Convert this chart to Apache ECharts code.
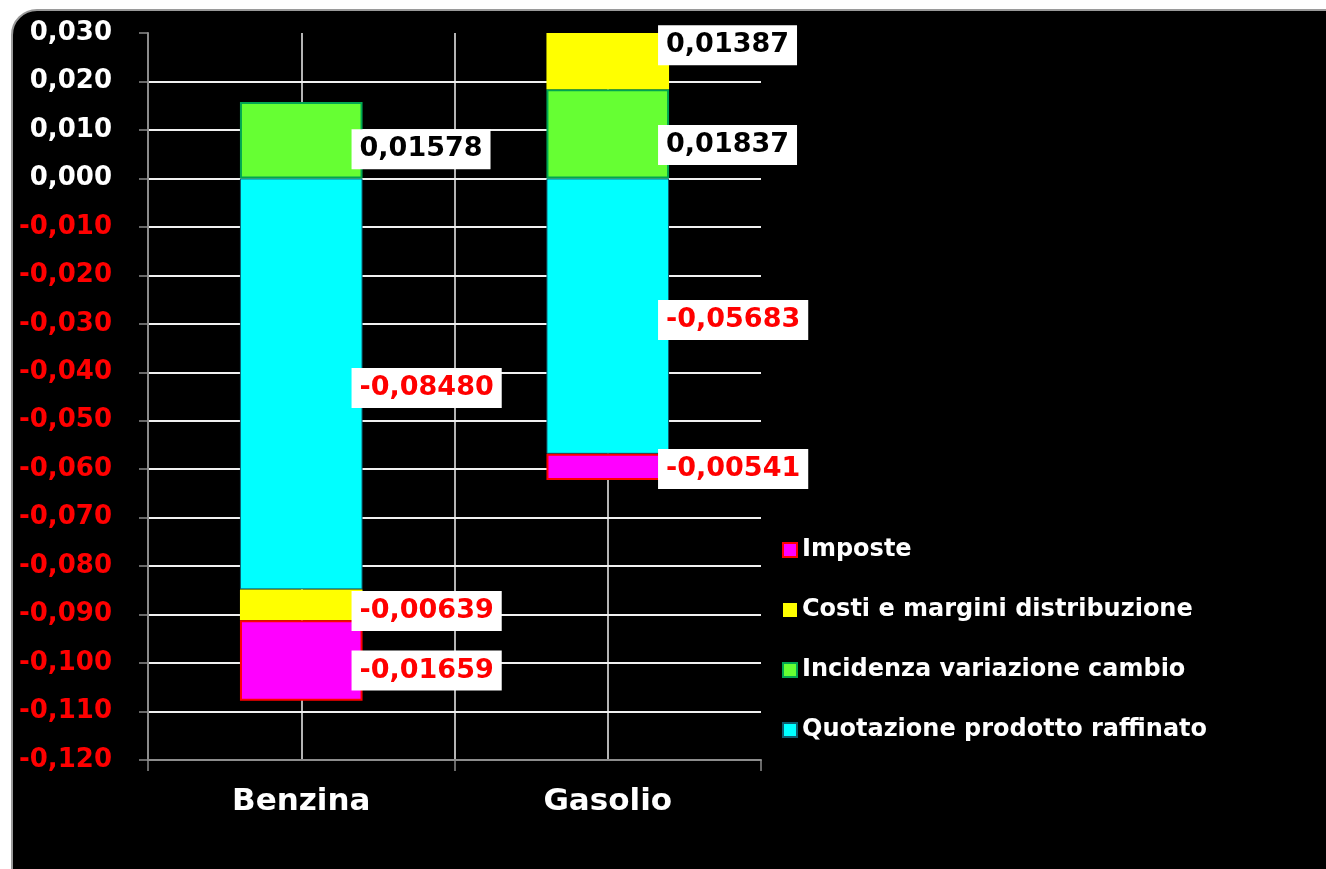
<!DOCTYPE html>
<html>
<head>
<meta charset="utf-8">
<script src="https://cdn.jsdelivr.net/npm/echarts@6/dist/echarts.min.js"></script>
<style>
  html, body { margin: 0; padding: 0; background: #fff; overflow: hidden; }
  #frame {
    position: absolute; left: 11px; top: 9px; width: 1340px; height: 900px;
    background: #000; border: 2px solid #9a9a9a; border-radius: 26px;
  }
  #chart { position: absolute; left: 0; top: 0; width: 1326px; height: 869px; }
</style>
</head>
<body>
<div id="frame"></div>
<div id="chart"></div>
<script>
"use strict";

const categories = ["Benzina", "Gasolio"];

const quotazione = [-0.0848, -0.05683];
const incidenza = [0.01578, 0.01837];
const costi = [-0.00639, 0.01387];
const imposte = [-0.01659, -0.00541];

const seriesNames = [
  "Quotazione prodotto raffinato",
  "Incidenza variazione cambio",
  "Costi e margini distribuzione",
  "Imposte",
];

// vertical nudge of the value boxes (px), one per category
const labelNudge = {
  "Quotazione prodotto raffinato": [4, 4],
  "Incidenza variazione cambio": [9, 11],
  "Costi e margini distribuzione": [6, -16],
  "Imposte": [10, 2],
};

const FONT = "DejaVu Sans";
const fmt = (v, d) => Number(v).toFixed(d).replace(".", ",");

const chart = echarts.init(document.getElementById("chart"));

const makeSeries = (name, values, color, border, borderWidth) => ({
  name,
  type: "bar",
  stack: "total",
  barWidth: "40%",
  data: values.map((v, i) => ({
    value: v,
    label: {
      offset: [-11, labelNudge[name][i]],
      color: v < 0 ? "#ff0000" : "#000",
    },
  })),
  itemStyle: { color, borderColor: border, borderWidth },
  label: {
    show: true,
    position: "right",
    distance: 0,
    formatter: (p) => fmt(p.value, 5),
    fontFamily: FONT,
    fontWeight: "bold",
    fontSize: 27,
    lineHeight: 30,
    backgroundColor: "#fff",
    padding: [5, 8, 5, 8],
  },
});

const series = [
  makeSeries(seriesNames[0], quotazione, "#00ffff", "#0e5a6e", 1),
  makeSeries(seriesNames[1], incidenza, "#66ff33", "#00a651", 2),
  makeSeries(seriesNames[2], costi, "#ffff00", "#ffff00", 0),
  makeSeries(seriesNames[3], imposte, "#ff00ff", "#ff0000", 2),
];

const options = {
  animation: false,
  backgroundColor: "transparent",
  grid: { left: 148, right: 565, top: 33, bottom: 109, containLabel: false },
  legend: {
    orient: "vertical",
    left: 777,
    top: 533,
    data: [seriesNames[3], seriesNames[2], seriesNames[1], seriesNames[0]],
    icon: "rect",
    itemWidth: 14,
    itemHeight: 14,
    itemGap: 36,
    textStyle: {
      color: "#fff",
      fontFamily: FONT,
      fontWeight: "bold",
      fontSize: 24,
      lineHeight: 24,
    },
  },
  xAxis: [
    {
      type: "category",
      data: categories,
      axisLine: { onZero: false, lineStyle: { color: "#8c8c8c", width: 2 } },
      axisTick: { show: true, length: 11, lineStyle: { color: "#8c8c8c", width: 1.5 } },
      axisLabel: {
        color: "#fff",
        fontFamily: FONT,
        fontWeight: "bold",
        fontSize: 31,
        margin: 26,
      },
      splitLine: { show: false },
    },
    {
      type: "value",
      min: 0,
      max: 4,
      interval: 1,
      position: "bottom",
      axisLine: { show: false, onZero: false },
      axisTick: { show: false },
      axisLabel: { show: false },
      splitLine: {
        show: true,
        showMinLine: false,
        showMaxLine: false,
        lineStyle: { color: "#f0f0f0", width: 1.5 },
      },
    },
  ],
  yAxis: {
    type: "value",
    min: -0.12,
    max: 0.03,
    interval: 0.01,
    axisLine: { show: true, onZero: false, lineStyle: { color: "#8c8c8c", width: 2 } },
    axisTick: { show: true, length: 9, lineStyle: { color: "#8c8c8c", width: 1.5 } },
    axisLabel: {
      formatter: (v) => fmt(v, 3),
      color: (v) => (parseFloat(v) < -1e-9 ? "#ff0000" : "#fff"),
      fontFamily: FONT,
      fontWeight: "bold",
      fontSize: 26,
      margin: 36,
    },
    splitLine: {
      show: true,
      showMaxLine: false,
      lineStyle: { color: "#f0f0f0", width: 2 },
    },
  },
  series,
};

chart.setOption(options);
</script>
</body>
</html>
